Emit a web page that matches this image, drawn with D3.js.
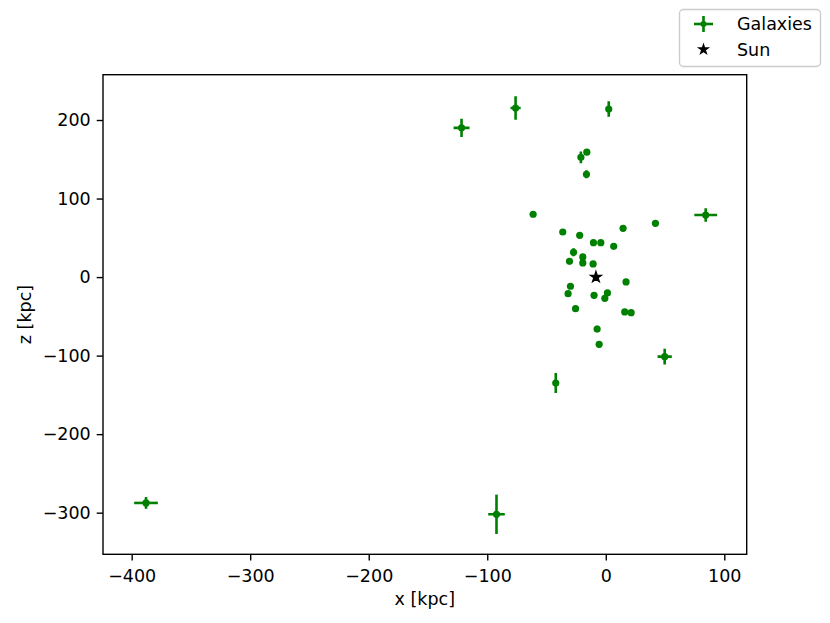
<!DOCTYPE html>
<html>
<head>
<meta charset="utf-8">
<script src="https://cdn.jsdelivr.net/npm/d3@7"></script>
<style>
  html, body { margin: 0; padding: 0; background: #fff; }
  svg { display: block; font-family: "DejaVu Sans", sans-serif; }
</style>
</head>
<body>
<svg id="chart" width="830" height="623"></svg>
<script>
// ---- data ----
const galX    = [-387.9, -92.2, -121.7, -76.1, 2.5, 84.3, 49.7, -42.2, -16, -21, -16.3, -61.3, 41.9, -36.3, -22, 14.6, -10.4, -4.2, 6.7, -27.2, -19.4, -30.6, -19.4, -10.7, 17.1, -29.8, -31.8, -9.9, 1.4, -0.8, -25.5, 16, 21.4, -7.3, -5.6];
const galZ    = [-287.6, -302, 190, 215.3, 214, 79, -101.3, -135, 159, 152.5, 130.9, 80, 68.5, 57.4, 53.2, 62.1, 43.8, 43.8, 39.2, 31.6, 25.6, 20.1, 18, 16.7, -6.2, -11.7, -21.1, -23.2, -20.2, -27, -40.2, -44.4, -45.3, -66.1, -85.6];
const galXErr = [10, 7, 6.7, 4.3, 2, 9.6, 6, 2, 1, 1.5, 1, 1, 2.5, 1, 1, 1, 0.5, 0.5, 0.5, 2, 0.5, 0.5, 0.5, 0.5, 0.5, 0.5, 0.5, 0.5, 0.5, 0.5, 0.5, 0.5, 0.5, 0.5, 0.5];
const galZErr = [7.5, 25, 11.5, 15, 10, 8.5, 10, 12.7, 2, 7.5, 5, 1, 1.5, 1, 1, 1, 0.5, 0.5, 0.5, 5, 1, 0.5, 0.5, 0.5, 0.5, 1, 0.5, 0.5, 0.5, 0.5, 0.5, 0.5, 0.5, 4, 4];
const sunX = [-8.3];
const sunZ = [0];
const xTicks = [-400, -300, -200, -100, 0, 100];
const zTicks = [-300, -200, -100, 0, 100, 200];
const legendLabels = ["Galaxies", "Sun"];

// ---- layout ----
const svg = d3.select("#chart");
const pL = 103, pR = 746.7, pT = 74.7, pB = 554.3;
const green = "#008000";
const fs = 17.5;

const x = d3.scaleLinear().domain([-424.2, 118.9]).range([pL, pR]);
const y = d3.scaleLinear().domain([-353, 257.7]).range([pB, pT]);

const fmt = d => (d < 0 ? "\u2212" + Math.abs(d) : String(d));

// axes
const xAxis = d3.axisBottom(x).tickValues(xTicks).tickFormat(fmt).tickSize(6.3).tickPadding(8.5);
const yAxis = d3.axisLeft(y).tickValues(zTicks).tickFormat(fmt).tickSize(6.3).tickPadding(6);

const gx = svg.append("g").attr("transform", `translate(0,${pB})`).call(xAxis);
const gy = svg.append("g").attr("transform", `translate(${pL},0)`).call(yAxis);
[gx, gy].forEach(g => {
  g.select(".domain").remove();
  g.selectAll(".tick line").attr("stroke", "#000").attr("stroke-width", 1.4);
  g.selectAll(".tick text").attr("fill", "#000").style("font-size", fs + "px").style("font-family", "DejaVu Sans");
});

// data group with clipping
svg.append("clipPath").attr("id", "clip").append("rect")
  .attr("x", pL).attr("y", pT).attr("width", pR - pL).attr("height", pB - pT);
const plot = svg.append("g").attr("clip-path", "url(#clip)");

const idx = d3.range(galX.length);
// error bars
plot.selectAll(".xerr").data(idx).join("line")
  .attr("x1", i => x(galX[i] - galXErr[i])).attr("x2", i => x(galX[i] + galXErr[i]))
  .attr("y1", i => y(galZ[i])).attr("y2", i => y(galZ[i]))
  .attr("stroke", green).attr("stroke-width", 2.6);
plot.selectAll(".zerr").data(idx).join("line")
  .attr("x1", i => x(galX[i])).attr("x2", i => x(galX[i]))
  .attr("y1", i => y(galZ[i] - galZErr[i])).attr("y2", i => y(galZ[i] + galZErr[i]))
  .attr("stroke", green).attr("stroke-width", 2.6);
// markers
plot.selectAll(".pt").data(idx).join("circle")
  .attr("cx", i => x(galX[i])).attr("cy", i => y(galZ[i])).attr("r", 3.6)
  .attr("fill", green);

// sun
plot.selectAll(".sun").data(d3.range(sunX.length)).join("path")
  .attr("d", d3.symbol(d3.symbolStar, 36)())
  .attr("transform", i => `translate(${x(sunX[i])},${y(sunZ[i])})`)
  .attr("fill", "#000").attr("stroke", "#000").attr("stroke-width", 1.3).attr("stroke-linejoin", "miter");

// frame
svg.append("rect").attr("x", pL).attr("y", pT).attr("width", pR - pL).attr("height", pB - pT)
  .attr("fill", "none").attr("stroke", "#000").attr("stroke-width", 1.4);

// axis labels
svg.append("text").attr("x", (pL + pR) / 2).attr("y", 604.5).attr("text-anchor", "middle")
  .style("font-size", fs + "px").text("x [kpc]");
svg.append("text").attr("transform", `translate(31,${(pT + pB) / 2}) rotate(-90)`)
  .attr("text-anchor", "middle").style("font-size", fs + "px").text("z [kpc]");

// legend
const lg = svg.append("g");
lg.append("rect").attr("x", 679.5).attr("y", 9.5).attr("width", 141).attr("height", 57).attr("rx", 4)
  .attr("fill", "#fff").attr("fill-opacity", 0.8).attr("stroke", "#cccccc").attr("stroke-width", 1.4);
const ly = [24, 49.5];
// galaxies entry
lg.append("line").attr("x1", 694).attr("x2", 713).attr("y1", ly[0]).attr("y2", ly[0]).attr("stroke", green).attr("stroke-width", 2.6);
lg.append("line").attr("x1", 703.5).attr("x2", 703.5).attr("y1", ly[0] - 8).attr("y2", ly[0] + 8).attr("stroke", green).attr("stroke-width", 2.6);
lg.append("circle").attr("cx", 703.5).attr("cy", ly[0]).attr("r", 3).attr("fill", green);
lg.append("path").attr("d", d3.symbol(d3.symbolStar, 28)()).attr("transform", `translate(703.5,${ly[1]})`)
  .attr("fill", "#000").attr("stroke", "#000").attr("stroke-width", 1.2);
lg.selectAll(".lt").data(legendLabels).join("text")
  .attr("x", 737).attr("y", (d, i) => ly[i] + 6.3)
  .style("font-size", fs + "px").text(d => d);
</script>
</body>
</html>
